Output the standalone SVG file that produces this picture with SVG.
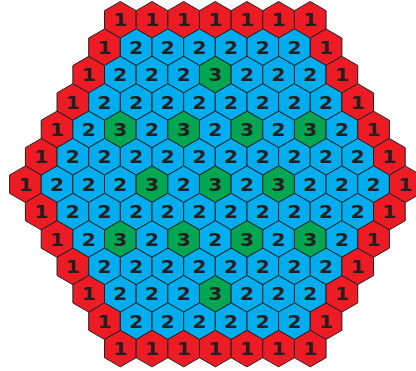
<svg xmlns="http://www.w3.org/2000/svg" xmlns:xlink="http://www.w3.org/1999/xlink" width="416" height="371" viewBox="0 0 416 371">
<style>
.r{fill:#ED1C24}.b{fill:#00AEEF}.g{fill:#00A651}
use{stroke:#231F20;stroke-width:1;stroke-linejoin:miter}
text{fill:#231F20;font-family:"DejaVu Sans","Liberation Sans",sans-serif;font-weight:bold;font-size:18px;text-anchor:middle;transform:scale(1.12,1)}
</style>
<defs><polygon id="hx" points="0,-18.27 15.825,-9.135 15.825,9.135 0,18.27 -15.825,9.135 -15.825,-9.135"/></defs>
<rect width="416" height="371" fill="#fff"/>
<g id="nodes">
<g id="row0" transform="translate(0 19.8)">
<g id="n0-0" class="r" transform="translate(120.35 0)"><use href="#hx"/><text y="6.6">1</text></g>
<g id="n0-1" class="r" transform="translate(152 0)"><use href="#hx"/><text y="6.6">1</text></g>
<g id="n0-2" class="r" transform="translate(183.65 0)"><use href="#hx"/><text y="6.6">1</text></g>
<g id="n0-3" class="r" transform="translate(215.3 0)"><use href="#hx"/><text y="6.6">1</text></g>
<g id="n0-4" class="r" transform="translate(246.95 0)"><use href="#hx"/><text y="6.6">1</text></g>
<g id="n0-5" class="r" transform="translate(278.6 0)"><use href="#hx"/><text y="6.6">1</text></g>
<g id="n0-6" class="r" transform="translate(310.25 0)"><use href="#hx"/><text y="6.6">1</text></g>
</g>
<g id="row1" transform="translate(0 47.2)">
<g id="n1-0" class="r" transform="translate(104.53 0)"><use href="#hx"/><text y="6.6">1</text></g>
<g id="n1-1" class="b" transform="translate(136.18 0)"><use href="#hx"/><text y="6.6">2</text></g>
<g id="n1-2" class="b" transform="translate(167.83 0)"><use href="#hx"/><text y="6.6">2</text></g>
<g id="n1-3" class="b" transform="translate(199.48 0)"><use href="#hx"/><text y="6.6">2</text></g>
<g id="n1-4" class="b" transform="translate(231.13 0)"><use href="#hx"/><text y="6.6">2</text></g>
<g id="n1-5" class="b" transform="translate(262.78 0)"><use href="#hx"/><text y="6.6">2</text></g>
<g id="n1-6" class="b" transform="translate(294.43 0)"><use href="#hx"/><text y="6.6">2</text></g>
<g id="n1-7" class="r" transform="translate(326.08 0)"><use href="#hx"/><text y="6.6">1</text></g>
</g>
<g id="row2" transform="translate(0 74.6)">
<g id="n2-0" class="r" transform="translate(88.7 0)"><use href="#hx"/><text y="6.6">1</text></g>
<g id="n2-1" class="b" transform="translate(120.35 0)"><use href="#hx"/><text y="6.6">2</text></g>
<g id="n2-2" class="b" transform="translate(152 0)"><use href="#hx"/><text y="6.6">2</text></g>
<g id="n2-3" class="b" transform="translate(183.65 0)"><use href="#hx"/><text y="6.6">2</text></g>
<g id="n2-4" class="g" transform="translate(215.3 0)"><use href="#hx"/><text y="6.6">3</text></g>
<g id="n2-5" class="b" transform="translate(246.95 0)"><use href="#hx"/><text y="6.6">2</text></g>
<g id="n2-6" class="b" transform="translate(278.6 0)"><use href="#hx"/><text y="6.6">2</text></g>
<g id="n2-7" class="b" transform="translate(310.25 0)"><use href="#hx"/><text y="6.6">2</text></g>
<g id="n2-8" class="r" transform="translate(341.9 0)"><use href="#hx"/><text y="6.6">1</text></g>
</g>
<g id="row3" transform="translate(0 102)">
<g id="n3-0" class="r" transform="translate(72.88 0)"><use href="#hx"/><text y="6.6">1</text></g>
<g id="n3-1" class="b" transform="translate(104.53 0)"><use href="#hx"/><text y="6.6">2</text></g>
<g id="n3-2" class="b" transform="translate(136.18 0)"><use href="#hx"/><text y="6.6">2</text></g>
<g id="n3-3" class="b" transform="translate(167.83 0)"><use href="#hx"/><text y="6.6">2</text></g>
<g id="n3-4" class="b" transform="translate(199.48 0)"><use href="#hx"/><text y="6.6">2</text></g>
<g id="n3-5" class="b" transform="translate(231.13 0)"><use href="#hx"/><text y="6.6">2</text></g>
<g id="n3-6" class="b" transform="translate(262.78 0)"><use href="#hx"/><text y="6.6">2</text></g>
<g id="n3-7" class="b" transform="translate(294.43 0)"><use href="#hx"/><text y="6.6">2</text></g>
<g id="n3-8" class="b" transform="translate(326.08 0)"><use href="#hx"/><text y="6.6">2</text></g>
<g id="n3-9" class="r" transform="translate(357.73 0)"><use href="#hx"/><text y="6.6">1</text></g>
</g>
<g id="row4" transform="translate(0 129.4)">
<g id="n4-0" class="r" transform="translate(57.05 0)"><use href="#hx"/><text y="6.6">1</text></g>
<g id="n4-1" class="b" transform="translate(88.7 0)"><use href="#hx"/><text y="6.6">2</text></g>
<g id="n4-2" class="g" transform="translate(120.35 0)"><use href="#hx"/><text y="6.6">3</text></g>
<g id="n4-3" class="b" transform="translate(152 0)"><use href="#hx"/><text y="6.6">2</text></g>
<g id="n4-4" class="g" transform="translate(183.65 0)"><use href="#hx"/><text y="6.6">3</text></g>
<g id="n4-5" class="b" transform="translate(215.3 0)"><use href="#hx"/><text y="6.6">2</text></g>
<g id="n4-6" class="g" transform="translate(246.95 0)"><use href="#hx"/><text y="6.6">3</text></g>
<g id="n4-7" class="b" transform="translate(278.6 0)"><use href="#hx"/><text y="6.6">2</text></g>
<g id="n4-8" class="g" transform="translate(310.25 0)"><use href="#hx"/><text y="6.6">3</text></g>
<g id="n4-9" class="b" transform="translate(341.9 0)"><use href="#hx"/><text y="6.6">2</text></g>
<g id="n4-10" class="r" transform="translate(373.55 0)"><use href="#hx"/><text y="6.6">1</text></g>
</g>
<g id="row5" transform="translate(0 156.8)">
<g id="n5-0" class="r" transform="translate(41.23 0)"><use href="#hx"/><text y="6.6">1</text></g>
<g id="n5-1" class="b" transform="translate(72.88 0)"><use href="#hx"/><text y="6.6">2</text></g>
<g id="n5-2" class="b" transform="translate(104.53 0)"><use href="#hx"/><text y="6.6">2</text></g>
<g id="n5-3" class="b" transform="translate(136.18 0)"><use href="#hx"/><text y="6.6">2</text></g>
<g id="n5-4" class="b" transform="translate(167.83 0)"><use href="#hx"/><text y="6.6">2</text></g>
<g id="n5-5" class="b" transform="translate(199.48 0)"><use href="#hx"/><text y="6.6">2</text></g>
<g id="n5-6" class="b" transform="translate(231.13 0)"><use href="#hx"/><text y="6.6">2</text></g>
<g id="n5-7" class="b" transform="translate(262.78 0)"><use href="#hx"/><text y="6.6">2</text></g>
<g id="n5-8" class="b" transform="translate(294.43 0)"><use href="#hx"/><text y="6.6">2</text></g>
<g id="n5-9" class="b" transform="translate(326.08 0)"><use href="#hx"/><text y="6.6">2</text></g>
<g id="n5-10" class="b" transform="translate(357.73 0)"><use href="#hx"/><text y="6.6">2</text></g>
<g id="n5-11" class="r" transform="translate(389.38 0)"><use href="#hx"/><text y="6.6">1</text></g>
</g>
<g id="row6" transform="translate(0 184.2)">
<g id="n6-0" class="r" transform="translate(25.4 0)"><use href="#hx"/><text y="6.6">1</text></g>
<g id="n6-1" class="b" transform="translate(57.05 0)"><use href="#hx"/><text y="6.6">2</text></g>
<g id="n6-2" class="b" transform="translate(88.7 0)"><use href="#hx"/><text y="6.6">2</text></g>
<g id="n6-3" class="b" transform="translate(120.35 0)"><use href="#hx"/><text y="6.6">2</text></g>
<g id="n6-4" class="g" transform="translate(152 0)"><use href="#hx"/><text y="6.6">3</text></g>
<g id="n6-5" class="b" transform="translate(183.65 0)"><use href="#hx"/><text y="6.6">2</text></g>
<g id="n6-6" class="g" transform="translate(215.3 0)"><use href="#hx"/><text y="6.6">3</text></g>
<g id="n6-7" class="b" transform="translate(246.95 0)"><use href="#hx"/><text y="6.6">2</text></g>
<g id="n6-8" class="g" transform="translate(278.6 0)"><use href="#hx"/><text y="6.6">3</text></g>
<g id="n6-9" class="b" transform="translate(310.25 0)"><use href="#hx"/><text y="6.6">2</text></g>
<g id="n6-10" class="b" transform="translate(341.9 0)"><use href="#hx"/><text y="6.6">2</text></g>
<g id="n6-11" class="b" transform="translate(373.55 0)"><use href="#hx"/><text y="6.6">2</text></g>
<g id="n6-12" class="r" transform="translate(405.2 0)"><use href="#hx"/><text y="6.6">1</text></g>
</g>
<g id="row7" transform="translate(0 211.6)">
<g id="n7-0" class="r" transform="translate(41.23 0)"><use href="#hx"/><text y="6.6">1</text></g>
<g id="n7-1" class="b" transform="translate(72.88 0)"><use href="#hx"/><text y="6.6">2</text></g>
<g id="n7-2" class="b" transform="translate(104.53 0)"><use href="#hx"/><text y="6.6">2</text></g>
<g id="n7-3" class="b" transform="translate(136.18 0)"><use href="#hx"/><text y="6.6">2</text></g>
<g id="n7-4" class="b" transform="translate(167.83 0)"><use href="#hx"/><text y="6.6">2</text></g>
<g id="n7-5" class="b" transform="translate(199.48 0)"><use href="#hx"/><text y="6.6">2</text></g>
<g id="n7-6" class="b" transform="translate(231.13 0)"><use href="#hx"/><text y="6.6">2</text></g>
<g id="n7-7" class="b" transform="translate(262.78 0)"><use href="#hx"/><text y="6.6">2</text></g>
<g id="n7-8" class="b" transform="translate(294.43 0)"><use href="#hx"/><text y="6.6">2</text></g>
<g id="n7-9" class="b" transform="translate(326.08 0)"><use href="#hx"/><text y="6.6">2</text></g>
<g id="n7-10" class="b" transform="translate(357.73 0)"><use href="#hx"/><text y="6.6">2</text></g>
<g id="n7-11" class="r" transform="translate(389.38 0)"><use href="#hx"/><text y="6.6">1</text></g>
</g>
<g id="row8" transform="translate(0 239)">
<g id="n8-0" class="r" transform="translate(57.05 0)"><use href="#hx"/><text y="6.6">1</text></g>
<g id="n8-1" class="b" transform="translate(88.7 0)"><use href="#hx"/><text y="6.6">2</text></g>
<g id="n8-2" class="g" transform="translate(120.35 0)"><use href="#hx"/><text y="6.6">3</text></g>
<g id="n8-3" class="b" transform="translate(152 0)"><use href="#hx"/><text y="6.6">2</text></g>
<g id="n8-4" class="g" transform="translate(183.65 0)"><use href="#hx"/><text y="6.6">3</text></g>
<g id="n8-5" class="b" transform="translate(215.3 0)"><use href="#hx"/><text y="6.6">2</text></g>
<g id="n8-6" class="g" transform="translate(246.95 0)"><use href="#hx"/><text y="6.6">3</text></g>
<g id="n8-7" class="b" transform="translate(278.6 0)"><use href="#hx"/><text y="6.6">2</text></g>
<g id="n8-8" class="g" transform="translate(310.25 0)"><use href="#hx"/><text y="6.6">3</text></g>
<g id="n8-9" class="b" transform="translate(341.9 0)"><use href="#hx"/><text y="6.6">2</text></g>
<g id="n8-10" class="r" transform="translate(373.55 0)"><use href="#hx"/><text y="6.6">1</text></g>
</g>
<g id="row9" transform="translate(0 266.4)">
<g id="n9-0" class="r" transform="translate(72.88 0)"><use href="#hx"/><text y="6.6">1</text></g>
<g id="n9-1" class="b" transform="translate(104.53 0)"><use href="#hx"/><text y="6.6">2</text></g>
<g id="n9-2" class="b" transform="translate(136.18 0)"><use href="#hx"/><text y="6.6">2</text></g>
<g id="n9-3" class="b" transform="translate(167.83 0)"><use href="#hx"/><text y="6.6">2</text></g>
<g id="n9-4" class="b" transform="translate(199.48 0)"><use href="#hx"/><text y="6.6">2</text></g>
<g id="n9-5" class="b" transform="translate(231.13 0)"><use href="#hx"/><text y="6.6">2</text></g>
<g id="n9-6" class="b" transform="translate(262.78 0)"><use href="#hx"/><text y="6.6">2</text></g>
<g id="n9-7" class="b" transform="translate(294.43 0)"><use href="#hx"/><text y="6.6">2</text></g>
<g id="n9-8" class="b" transform="translate(326.08 0)"><use href="#hx"/><text y="6.6">2</text></g>
<g id="n9-9" class="r" transform="translate(357.73 0)"><use href="#hx"/><text y="6.6">1</text></g>
</g>
<g id="row10" transform="translate(0 293.8)">
<g id="n10-0" class="r" transform="translate(88.7 0)"><use href="#hx"/><text y="6.6">1</text></g>
<g id="n10-1" class="b" transform="translate(120.35 0)"><use href="#hx"/><text y="6.6">2</text></g>
<g id="n10-2" class="b" transform="translate(152 0)"><use href="#hx"/><text y="6.6">2</text></g>
<g id="n10-3" class="b" transform="translate(183.65 0)"><use href="#hx"/><text y="6.6">2</text></g>
<g id="n10-4" class="g" transform="translate(215.3 0)"><use href="#hx"/><text y="6.6">3</text></g>
<g id="n10-5" class="b" transform="translate(246.95 0)"><use href="#hx"/><text y="6.6">2</text></g>
<g id="n10-6" class="b" transform="translate(278.6 0)"><use href="#hx"/><text y="6.6">2</text></g>
<g id="n10-7" class="b" transform="translate(310.25 0)"><use href="#hx"/><text y="6.6">2</text></g>
<g id="n10-8" class="r" transform="translate(341.9 0)"><use href="#hx"/><text y="6.6">1</text></g>
</g>
<g id="row11" transform="translate(0 321.2)">
<g id="n11-0" class="r" transform="translate(104.53 0)"><use href="#hx"/><text y="6.6">1</text></g>
<g id="n11-1" class="b" transform="translate(136.18 0)"><use href="#hx"/><text y="6.6">2</text></g>
<g id="n11-2" class="b" transform="translate(167.83 0)"><use href="#hx"/><text y="6.6">2</text></g>
<g id="n11-3" class="b" transform="translate(199.48 0)"><use href="#hx"/><text y="6.6">2</text></g>
<g id="n11-4" class="b" transform="translate(231.13 0)"><use href="#hx"/><text y="6.6">2</text></g>
<g id="n11-5" class="b" transform="translate(262.78 0)"><use href="#hx"/><text y="6.6">2</text></g>
<g id="n11-6" class="b" transform="translate(294.43 0)"><use href="#hx"/><text y="6.6">2</text></g>
<g id="n11-7" class="r" transform="translate(326.08 0)"><use href="#hx"/><text y="6.6">1</text></g>
</g>
<g id="row12" transform="translate(0 348.6)">
<g id="n12-0" class="r" transform="translate(120.35 0)"><use href="#hx"/><text y="6.6">1</text></g>
<g id="n12-1" class="r" transform="translate(152 0)"><use href="#hx"/><text y="6.6">1</text></g>
<g id="n12-2" class="r" transform="translate(183.65 0)"><use href="#hx"/><text y="6.6">1</text></g>
<g id="n12-3" class="r" transform="translate(215.3 0)"><use href="#hx"/><text y="6.6">1</text></g>
<g id="n12-4" class="r" transform="translate(246.95 0)"><use href="#hx"/><text y="6.6">1</text></g>
<g id="n12-5" class="r" transform="translate(278.6 0)"><use href="#hx"/><text y="6.6">1</text></g>
<g id="n12-6" class="r" transform="translate(310.25 0)"><use href="#hx"/><text y="6.6">1</text></g>
</g>
</g>
<g id="connectors"/>
</svg>
